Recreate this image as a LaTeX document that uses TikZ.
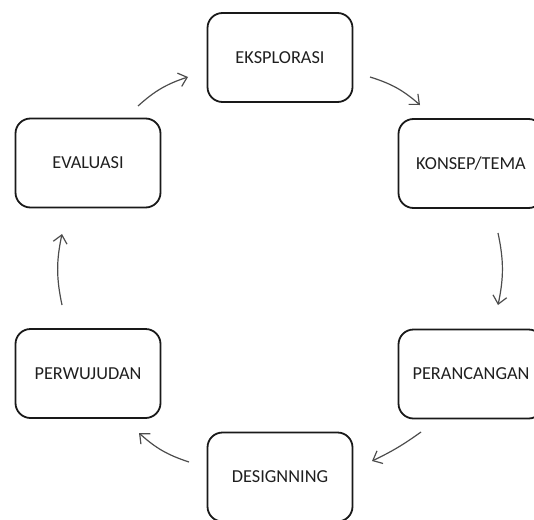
\documentclass[tikz,border=0pt]{standalone}
\usepackage{fontspec}
\setmainfont{Carlito}
\usetikzlibrary{arrows.meta}
\begin{document}
\begin{tikzpicture}[x=1pt,y=-1pt,
  stagebox/.style={draw=black!90, line width=1.8pt, rounded corners=15pt,
    minimum width=145pt, minimum height=89pt, inner sep=0pt,
    font=\fontsize{18.3}{21}\selectfont, text=black!88},
  flow/.style={draw=black!70, line width=1.2pt,
    -{Straight Barb[length=8pt,width=14pt,line width=1.2pt]}, bend left=12}]
\useasboundingbox (0,0) rectangle (534,519);
\clip (0,0) rectangle (534,519);
\node[stagebox] (eks) at (280,57.5) {EKSPLORASI};
\node[stagebox] (kon) at (471,163.5) {KONSEP/TEMA};
\node[stagebox] (per) at (471,374) {PERANCANGAN};
\node[stagebox] (des) at (280,477) {DESIGNNING};
\node[stagebox] (wuj) at (88,373.5) {PERWUJUDAN};
\node[stagebox] (eva) at (88,163) {EVALUASI};
\coordinate (a1) at (138,106); \coordinate (b1) at (188,77);
\coordinate (a2) at (370,77);  \coordinate (b2) at (420,105);
\coordinate (a3) at (498,233); \coordinate (b3) at (498,305);
\coordinate (a4) at (421,432); \coordinate (b4) at (372,461);
\coordinate (a5) at (189,462); \coordinate (b5) at (139,433);
\coordinate (a6) at (62,305);  \coordinate (b6) at (62,234);
\draw[flow] (a1) to (b1);
\draw[flow] (a2) to (b2);
\draw[flow] (a3) to (b3);
\draw[flow, bend left=5] (a4) to (b4);
\draw[flow] (a5) to (b5);
\draw[flow] (a6) to (b6);
\end{tikzpicture}
\end{document}
